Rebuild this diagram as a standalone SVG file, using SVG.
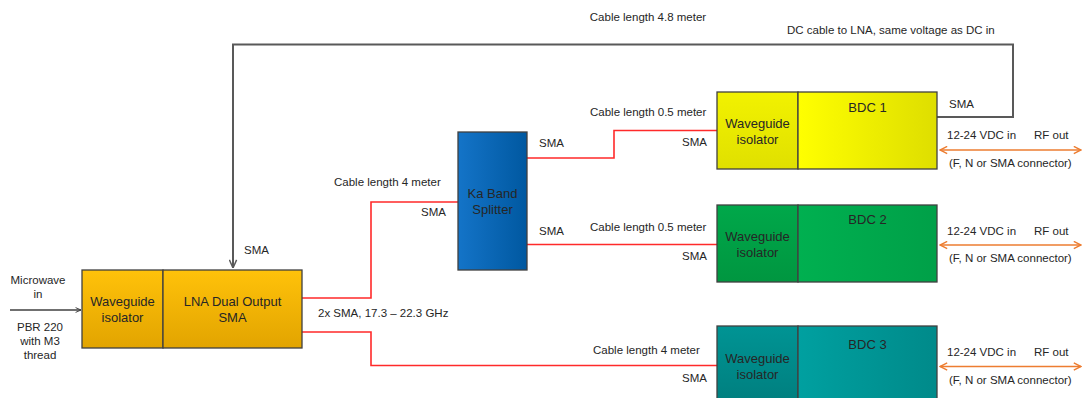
<svg xmlns="http://www.w3.org/2000/svg" width="1082" height="398" viewBox="0 0 1082 398">
<defs>
<style>
text{font-family:"Liberation Sans",Arial,sans-serif;fill:#262626}
.s{font-size:11.5px}
.b{font-size:13px;text-anchor:middle}
.c{text-anchor:middle}
.box{stroke:#404040;stroke-width:1.3}
.red{fill:none;stroke:#FF2A2A;stroke-width:1.6}
.dc{fill:none;stroke:#595959;stroke-width:2}
.org{fill:none;stroke:#ED7D31;stroke-width:1.6;marker-start:url(#oa);marker-end:url(#oa)}
</style>
<linearGradient id="gold" x1="0" y1="0" x2="0" y2="1"><stop offset="0" stop-color="#FFC20A"/><stop offset="1" stop-color="#E2A400"/></linearGradient>
<linearGradient id="blue" x1="0" y1="0" x2="1" y2="0"><stop offset="0" stop-color="#1474C8"/><stop offset="1" stop-color="#0058A0"/></linearGradient>
<linearGradient id="yel" x1="0" y1="0" x2="1" y2="0"><stop offset="0" stop-color="#FFFF00"/><stop offset="1" stop-color="#DEDE00"/></linearGradient>
<linearGradient id="yelw" x1="0" y1="0" x2="0" y2="1"><stop offset="0" stop-color="#F2F200"/><stop offset="1" stop-color="#E0E000"/></linearGradient>
<linearGradient id="grn" x1="0" y1="0" x2="1" y2="0"><stop offset="0" stop-color="#00B050"/><stop offset="1" stop-color="#00A048"/></linearGradient>
<linearGradient id="grnw" x1="0" y1="0" x2="0" y2="1"><stop offset="0" stop-color="#00A84A"/><stop offset="1" stop-color="#009640"/></linearGradient>
<linearGradient id="tea" x1="0" y1="0" x2="1" y2="0"><stop offset="0" stop-color="#00A0A0"/><stop offset="1" stop-color="#008A8A"/></linearGradient>
<linearGradient id="teaw" x1="0" y1="0" x2="0" y2="1"><stop offset="0" stop-color="#009494"/><stop offset="1" stop-color="#007E7E"/></linearGradient>
<marker id="ka" viewBox="0 0 10 10" refX="10" refY="5" markerWidth="6" markerHeight="6" orient="auto" markerUnits="userSpaceOnUse"><path d="M1,1 L10,5 L1,9" fill="none" stroke="#404040" stroke-width="1.6"/></marker>
<marker id="ga" viewBox="0 0 10 10" refX="10" refY="5" markerWidth="9" markerHeight="9" orient="auto" markerUnits="userSpaceOnUse"><path d="M1,1 L10,5 L1,9" fill="none" stroke="#595959" stroke-width="1.6"/></marker>
<marker id="oa" viewBox="0 0 10 10" refX="9" refY="5" markerWidth="9" markerHeight="9" orient="auto-start-reverse" markerUnits="userSpaceOnUse"><path d="M1,1 L9,5 L1,9" fill="none" stroke="#ED7D31" stroke-width="1.6"/></marker>
</defs>
<rect width="1082" height="398" fill="#FFFFFF"/>

<g id="connectors">
<path class="dc" d="M937,117 H1013 V44.5 H233 V268" marker-end="url(#ga)"/>
<path class="red" d="M302,298 H371 V202 H458"/>
<path class="red" d="M302,332 H371 V365.5 H717"/>
<path class="red" d="M527,158 H614 V130.5 H717"/>
<path class="red" d="M527,244.5 H717"/>
<line x1="10" y1="310" x2="81" y2="310" stroke="#404040" stroke-width="1.3" marker-end="url(#ka)"/>
<line class="org" x1="940" y1="150" x2="1081" y2="150"/>
<line class="org" x1="940" y1="245" x2="1081" y2="245"/>
<line class="org" x1="940" y1="366.5" x2="1081" y2="366.5"/>
</g>

<g id="lna">
<rect class="box" x="82" y="270" width="81" height="78" fill="url(#gold)"/>
<rect class="box" x="163" y="270" width="139" height="78" fill="url(#gold)"/>
<text class="b" x="122.5" y="306">Waveguide</text>
<text class="b" x="122.5" y="322">isolator</text>
<text class="b" x="232.5" y="306">LNA Dual Output</text>
<text class="b" x="232.5" y="322">SMA</text>
</g>

<g id="splitter">
<rect class="box" x="458" y="132" width="69" height="138" fill="url(#blue)"/>
<text class="b" x="492.5" y="198">Ka Band</text>
<text class="b" x="492.5" y="214">Splitter</text>
</g>

<g id="bdc1">
<rect class="box" x="717" y="92" width="81" height="77" fill="url(#yelw)"/>
<rect class="box" x="798" y="92" width="139" height="77" fill="url(#yel)"/>
<text class="b" x="757.5" y="128">Waveguide</text>
<text class="b" x="757.5" y="144">isolator</text>
<text class="b" x="867.5" y="112">BDC 1</text>
</g>

<g id="bdc2">
<rect class="box" x="717" y="205" width="81" height="77" fill="url(#grnw)"/>
<rect class="box" x="798" y="205" width="139" height="77" fill="url(#grn)"/>
<text class="b" x="757.5" y="241">Waveguide</text>
<text class="b" x="757.5" y="257">isolator</text>
<text class="b" x="867.5" y="224">BDC 2</text>
</g>

<g id="bdc3">
<rect class="box" x="717" y="326" width="81" height="80" fill="url(#teaw)"/>
<rect class="box" x="798" y="326" width="139" height="80" fill="url(#tea)"/>
<text class="b" x="757.5" y="363">Waveguide</text>
<text class="b" x="757.5" y="379">isolator</text>
<text class="b" x="867.5" y="349">BDC 3</text>
</g>

<g id="labels">
<text class="s c" x="648" y="21">Cable length 4.8 meter</text>
<text class="s" x="787" y="34">DC cable to LNA, same voltage as DC in</text>
<text class="s" x="590" y="116">Cable length 0.5 meter</text>
<text class="s" x="539" y="147">SMA</text>
<text class="s" x="682" y="146">SMA</text>
<text class="s" x="334" y="186">Cable length 4 meter</text>
<text class="s" x="421" y="216">SMA</text>
<text class="s" x="539" y="235">SMA</text>
<text class="s" x="590" y="231">Cable length 0.5 meter</text>
<text class="s" x="682" y="260">SMA</text>
<text class="s" x="244" y="254">SMA</text>
<text class="s" x="318" y="317">2x SMA, 17.3 – 22.3 GHz</text>
<text class="s" x="593" y="354">Cable length 4 meter</text>
<text class="s" x="682" y="382">SMA</text>
<text class="s c" x="38" y="284">Microwave</text>
<text class="s c" x="38" y="298">in</text>
<text class="s c" x="40" y="331">PBR 220</text>
<text class="s c" x="40" y="345">with M3</text>
<text class="s c" x="40" y="359">thread</text>
<text class="s" x="949" y="108">SMA</text>
<text class="s" x="947" y="139">12-24 VDC in</text>
<text class="s" x="1034" y="139">RF out</text>
<text class="s" x="949" y="167">(F, N or SMA connector)</text>
<text class="s" x="947" y="235">12-24 VDC in</text>
<text class="s" x="1034" y="235">RF out</text>
<text class="s" x="949" y="262">(F, N or SMA connector)</text>
<text class="s" x="947" y="356">12-24 VDC in</text>
<text class="s" x="1034" y="356">RF out</text>
<text class="s" x="949" y="384">(F, N or SMA connector)</text>
</g>
</svg>
